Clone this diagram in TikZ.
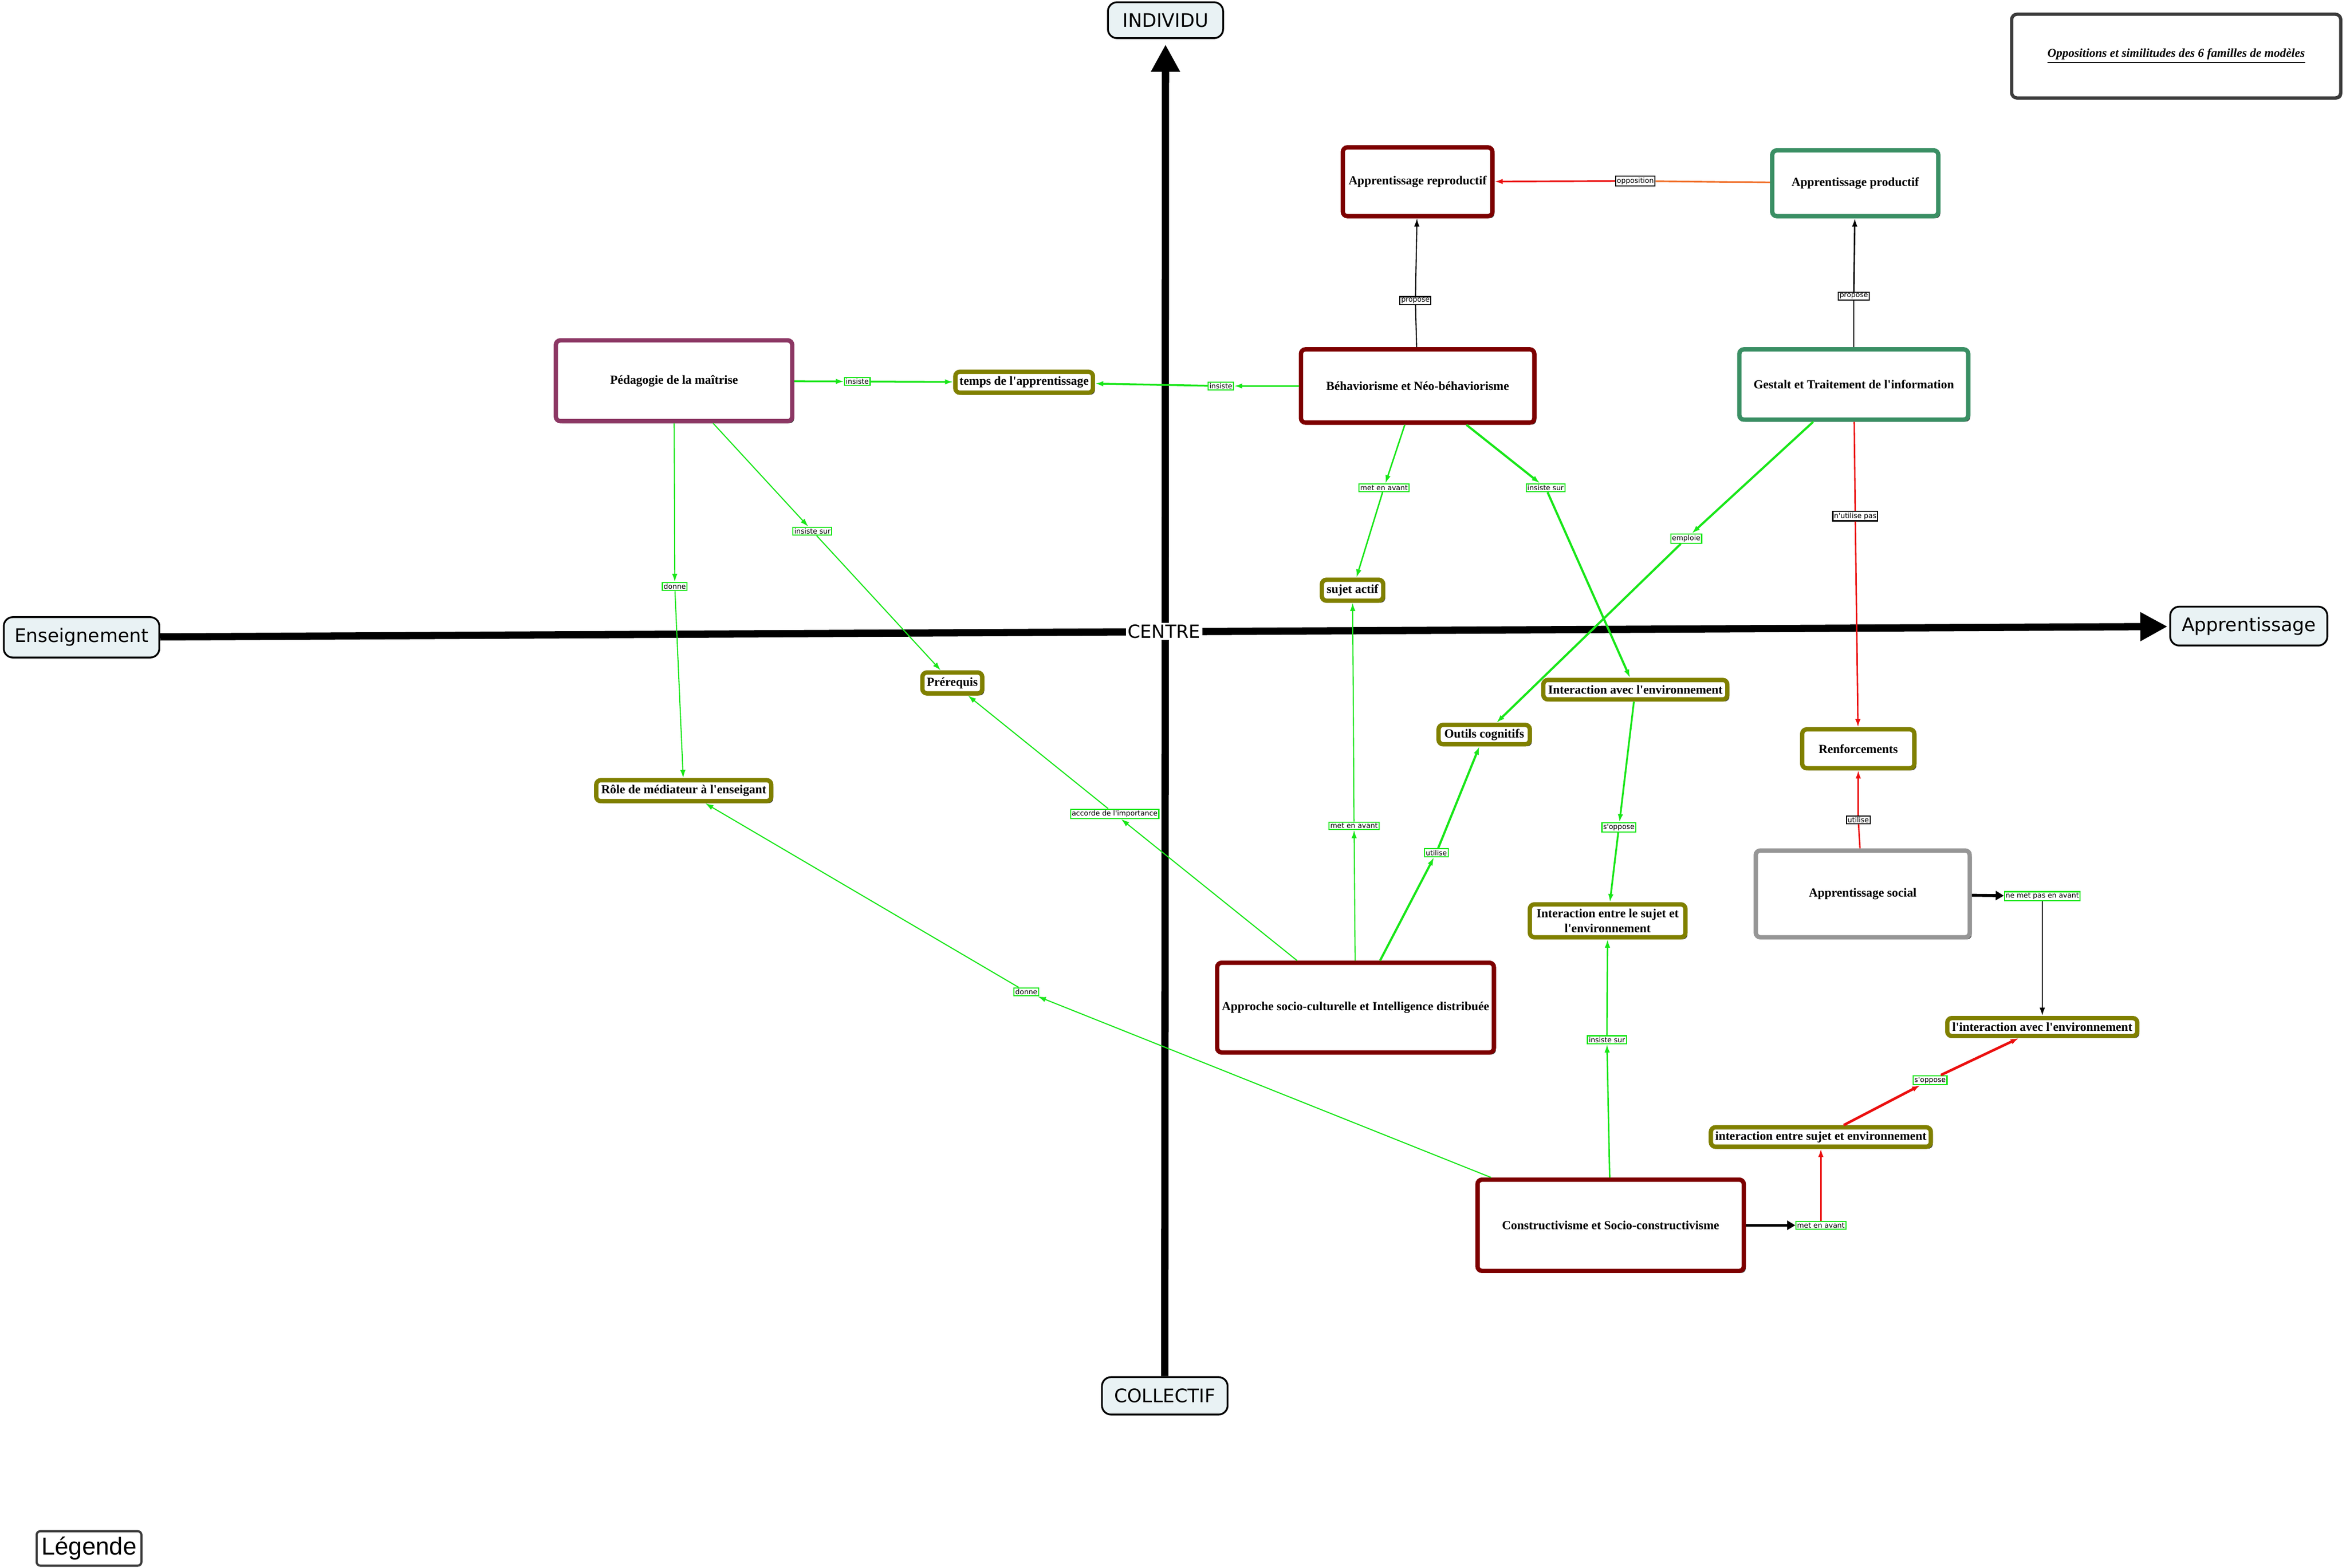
\documentclass[tikz,border=0pt]{standalone}
\usepackage{fontspec}
\newfontfamily\ser{Liberation Serif}
\newfontfamily\dejavu{DejaVu Sans}
\newfontfamily\libsans{Liberation Sans}
\usetikzlibrary{arrows.meta,shadows}
\definecolor{maroonB}{RGB}{125,0,0}
\definecolor{seaG}{RGB}{58,143,100}
\definecolor{plumB}{RGB}{140,55,100}
\definecolor{grayB}{RGB}{150,150,150}
\definecolor{oliveB}{RGB}{128,128,0}
\definecolor{lgreen}{RGB}{25,230,25}
\definecolor{lred}{RGB}{235,15,15}
\definecolor{lorange}{RGB}{240,110,40}
\definecolor{axfill}{RGB}{233,242,244}
\definecolor{dgray}{RGB}{60,60,60}
\begin{document}
\begin{tikzpicture}[x=0.29mm,y=-0.29mm,
  sz/.style 2 args={minimum width=#1*0.825pt, minimum height=#2*0.825pt},
  txt/.style={font=\ser\bfseries\fontsize{6.8}{8.2}\selectfont, align=center, inner sep=0pt},
  big/.style={txt, draw=#1, line width=2.4pt, fill=white, rounded corners=2.5pt,
    drop shadow={shadow xshift=1.1pt, shadow yshift=-1.1pt, fill=black!75, opacity=1}},
  small/.style={big=oliveB},
  axn/.style={draw=black, line width=1pt, fill=axfill, rounded corners=5pt,
    font=\dejavu\fontsize{10.3}{12}\selectfont, inner sep=0pt},
  axis/.style={line width=4pt, -{Triangle[length=15pt,width=15pt]}},
  lab/.style={font=\dejavu\fontsize{3.9}{4.5}\selectfont, fill=white, draw=lgreen, line width=0.6pt, inner sep=0.7pt},
  labk/.style={lab, draw=black},
  ge/.style={draw=lgreen, line width=#1, -{Latex[length=4.5pt,width=3pt]}},
  ge/.default=0.6pt,
  kl/.style={draw=black, line width=0.6pt},
  kA/.style={draw=black, line width=#1, -{Latex[length=4.5pt,width=3pt]}},
  kA/.default=0.6pt,
  kT/.style={draw=black, line width=1.6pt, -{Triangle[length=4.5pt,width=5pt]}},
  rl/.style={draw=lred, line width=#1},
  rl/.default=0.8pt,
  rA/.style={draw=lred, line width=#1, -{Latex[length=4.5pt,width=3pt]}},
  rA/.default=0.8pt
]
\useasboundingbox (0,0) rectangle (1568,1048);

% axis nodes
\node[axn, sz={77}{24}] (ind) at (779,13.5) {INDIVIDU};
\node[axn, sz={84}{25}] (coll) at (778.5,933) {COLLECTIF};
\node[axn, sz={104}{27}] (ens) at (54.5,426) {Enseignement};
\node[axn, sz={105}{26}] (app) at (1503,418.5) {Apprentissage};

% axes
\draw[axis, shorten >=3pt] (coll) -- (ind);
\draw[axis, shorten >=1pt] (ens) -- (app);
\node[fill=white, inner sep=1pt, font=\dejavu\fontsize{10}{12}\selectfont] (centre) at (778,422) {CENTRE};

% title & legend
\node[draw=dgray, line width=1.8pt, fill=white, rounded corners=3pt, sz={220}{56},
  font=\ser\bfseries\itshape\fontsize{6.7}{8}\selectfont,
  drop shadow={shadow xshift=0.8pt, shadow yshift=-0.8pt, fill=black!70, opacity=1}]
  (title) at (1454.5,37.5) {\underline{Oppositions et similitudes des 6 familles de modèles}};
\node[draw=dgray, line width=1.2pt, rounded corners=2pt, sz={70}{23}, inner sep=0pt,
  font=\libsans\fontsize{13.5}{15}\selectfont] (leg) at (59.5,1035) {Légende};

% main nodes
\node[big=maroonB, sz={100}{46}] (repro) at (947.5,121.5) {Apprentissage reproductif};
\node[big=seaG, sz={111}{44}] (prod) at (1240,122.5) {Apprentissage productif};
\node[big=maroonB, sz={156}{49}] (beh) at (947.5,258) {Béhaviorisme et Néo-béhaviorisme};
\node[big=seaG, sz={153}{47}] (gest) at (1239,257) {Gestalt et Traitement de l'information};
\node[big=plumB, sz={158}{54}] (peda) at (450.5,254.5) {Pédagogie de la maîtrise};
\node[big=maroonB, sz={185}{60}] (appr) at (906,673.5) {Approche socio-culturelle et Intelligence distribuée};
\node[big=grayB, sz={143}{58}] (soc) at (1245,597.5) {Apprentissage social};
\node[big=maroonB, sz={178}{61}] (cons) at (1076.5,819) {Constructivisme et Socio-constructivisme};

% small nodes
\node[small, sz={92}{14}] (temps) at (684.5,255.5) {temps de l'apprentissage};
\node[small, sz={41}{14}] (sujet) at (904,394.5) {sujet actif};
\node[small, sz={40}{14}] (prer) at (636.5,456.5) {Prérequis};
\node[small, sz={117}{14}] (role) at (457,528.5) {Rôle de médiateur à l'enseigant};
\node[small, sz={61}{13}] (outils) at (992,491) {Outils cognitifs};
\node[small, sz={123}{13}] (inter1) at (1093,461) {Interaction avec l'environnement};
\node[small, sz={75}{26}] (renf) at (1242,500.5) {Renforcements};
\node[small, sz={104}{22}] (inter2) at (1074.5,615.5) {Interaction entre le sujet et\\l'environnement};
\node[small, sz={127}{12}] (inter3) at (1365,686.5) {l'interaction avec l'environnement};
\node[small, sz={147}{13}] (inter4) at (1217,760) {interaction entre sujet et environnement};

% labels
\node[labk] (lp1) at (946,201) {propose};
\node[labk] (lp2) at (1239,198) {propose};
\node[labk] (lop) at (1093,121) {opposition};
\node[lab] (li1) at (573,255) {insiste};
\node[lab] (li2) at (816,258) {insiste};
\node[lab] (lm1) at (925,326) {met en avant};
\node[lab] (ls1) at (1033,326) {insiste sur};
\node[lab] (lem) at (1127,360) {emploie};
\node[labk] (lnu) at (1240,345) {n'utilise pas};
\node[lab] (ld1) at (451,392) {donne};
\node[lab] (ls2) at (543,355) {insiste sur};
\node[lab] (lac) at (745,544) {accorde de l'importance};
\node[lab] (lm2) at (905,552) {met en avant};
\node[lab] (lu1) at (960,570) {utilise};
\node[lab] (ld2) at (686,663) {donne};
\node[lab] (ls3) at (1074,695) {insiste sur};
\node[lab] (lo1) at (1082,553) {s'oppose};
\node[labk] (lu2) at (1242,548) {utilise};
\node[lab] (lnm) at (1365,599) {ne met pas en avant};
\node[lab] (lm3) at (1217,819) {met en avant};
\node[lab] (lo2) at (1290,722) {s'oppose};

% black / red / orange connectors
\draw[kl] (beh) -- (lp1); \draw[kA] (lp1) -- (repro);
\draw[kl, line width=0.8pt] (gest) -- (lp2); \draw[kA=0.8pt] (lp2) -- (prod);
\draw[draw=lorange, line width=0.9pt] (prod) -- (lop); \draw[rA=0.9pt] (lop) -- (repro);
\draw[rl] (gest) -- (lnu); \draw[rA] (lnu) -- (renf);
\draw[rl] (soc) -- (lu2); \draw[rA] (lu2) -- (renf);
\draw[kT] (soc) -- (lnm); \draw[kA=0.8pt] (lnm) -- (inter3);
\draw[kT] (cons) -- (lm3); \draw[rA] (lm3) -- (inter4);
\draw[rA=1.4pt] (inter4) -- (lo2); \draw[rA=1.4pt] (lo2) -- (inter3);

% green connectors
\draw[ge=1pt] (peda) -- (li1); \draw[ge=1pt] (li1) -- (temps);
\draw[ge=1pt] (beh) -- (li2); \draw[ge=1pt] (li2) -- (temps);
\draw[ge=0.8pt] (beh) -- (lm1); \draw[ge=0.8pt] (lm1) -- (sujet);
\draw[ge=1.2pt] (beh) -- (ls1); \draw[ge=1.2pt] (ls1) -- (inter1);
\draw[ge=1.2pt] (gest) -- (lem); \draw[ge=1.2pt] (lem) -- (outils);
\draw[ge] (peda) -- (ld1); \draw[ge] (ld1) -- (role);
\draw[ge] (peda) -- (ls2); \draw[ge] (ls2) -- (prer);
\draw[ge] (appr) -- (lac); \draw[ge] (lac) -- (prer);
\draw[ge] (appr) -- (lm2); \draw[ge] (lm2) -- (sujet);
\draw[ge=1.2pt] (appr) -- (lu1); \draw[ge=1.2pt] (lu1) -- (outils);
\draw[ge] (cons) -- (ld2); \draw[ge] (ld2) -- (role);
\draw[ge=0.8pt] (cons) -- (ls3); \draw[ge=0.8pt] (ls3) -- (inter2);
\draw[ge=1pt] (inter1) -- (lo1); \draw[ge=1pt] (lo1) -- (inter2);
\end{tikzpicture}
\end{document}
